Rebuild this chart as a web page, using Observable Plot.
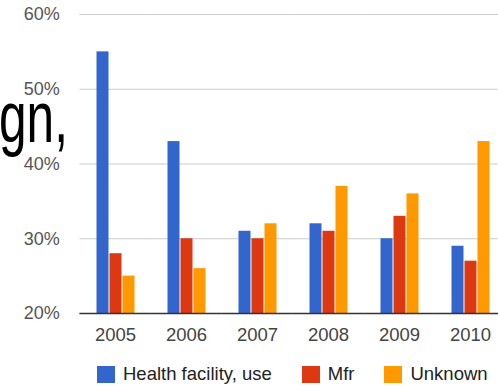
<!DOCTYPE html>
<html>
<head>
<meta charset="utf-8">
<script src="https://cdn.jsdelivr.net/npm/d3@7"></script>
<script src="https://cdn.jsdelivr.net/npm/@observablehq/plot@0.6"></script>
<style>
  html, body { margin: 0; padding: 0; background: #fff; }
  #chart { position: relative; width: 498px; height: 386px; overflow: hidden; font-family: "Liberation Sans", Arial, sans-serif; }
  #chart svg { display: block; overflow: hidden; }
  .legend { display: flex; align-items: center; height: 36px; box-sizing: border-box; padding: 12px 0 0 97px; font-size: 18.5px; color: #222; }
  .legend .item { display: flex; align-items: center; margin-right: 30px; white-space: nowrap; }
  .legend .swatch { width: 18px; height: 17px; margin-right: 8px; }
</style>
</head>
<body>
<div id="chart"></div>
<script>
// Share of cases by source, per year
const years = ["2005", "2006", "2007", "2008", "2009", "2010"];
const seriesNames = ["Health facility, use", "Mfr", "Unknown"];
const healthFacility = [55, 43, 31, 32, 30, 29];
const mfr = [28, 30, 30, 31, 33, 27];
const unknown = [25, 26, 32, 37, 36, 43];
const yTicks = [20, 30, 40, 50, 60];
const colors = ["#3366cc", "#dc3912", "#ff9900"];

const seriesValues = [healthFacility, mfr, unknown];
const rows = years.flatMap((year, i) =>
  seriesNames.map((series, j) => ({year, series, value: seriesValues[j][i]}))
);

const W = 498, marginLeft = 79.5, marginRight = -7.5;
const fxInner = 0.44, fxOuter = 0.22;
// each facet's rules reach halfway into the gaps so they join up across the frame
const fxStep = (W - marginLeft - marginRight) / years.length;
const reach = -fxOuter * fxStep;

const plot = Plot.plot({
  width: W,
  height: 350,
  marginTop: 14,
  marginBottom: 37,
  marginLeft,
  marginRight,
  style: {fontFamily: "'Liberation Sans', Arial, sans-serif", background: "#fff"},
  fx: {domain: years, paddingInner: fxInner, paddingOuter: fxOuter, label: null, axis: null},
  x: {domain: seriesNames, paddingInner: 0.1, paddingOuter: 0, axis: null},
  y: {domain: [20, 60], axis: null},
  color: {domain: seriesNames, range: colors},
  marks: [
    Plot.ruleY(yTicks.slice(1), {stroke: "#cccccc", strokeWidth: 1, insetLeft: reach, insetRight: reach}),
    Plot.barY(rows, {fx: "year", x: "series", y1: 20, y2: "value", fill: "series"}),
    Plot.ruleY([20], {stroke: "#333333", strokeWidth: 1.5, insetLeft: reach, insetRight: reach}),
    // the y axis sits beside the first facet, so pad past the outer gap as well
    Plot.axisY(yTicks, {
      tickFormat: d => d + "%", tickSize: 0, tickPadding: 20 - reach,
      fontSize: 18, fill: "#555", label: null
    }),
    Plot.axisFx({anchor: "bottom", tickSize: 0, tickPadding: 14, fontSize: 18.5, fill: "#444", label: null})
  ]
});

// Slide heading fragment that sits over the left edge
d3.select(plot).append("text")
  .attr("transform", "translate(-1,142) scale(0.68,1)")
  .attr("text-anchor", "start")
  .attr("font-size", 73)
  .attr("font-family", "'Liberation Sans', Arial, sans-serif")
  .attr("fill", "#000")
  .text("gn,");

const chart = document.getElementById("chart");
chart.appendChild(plot);

// Legend row below the plot
const legend = document.createElement("div");
legend.className = "legend";
seriesNames.forEach((name, i) => {
  const item = document.createElement("div");
  item.className = "item";
  const sw = document.createElement("span");
  sw.className = "swatch";
  sw.style.background = colors[i];
  const label = document.createElement("span");
  label.textContent = name;
  item.append(sw, label);
  legend.appendChild(item);
});
chart.appendChild(legend);
</script>
</body>
</html>
